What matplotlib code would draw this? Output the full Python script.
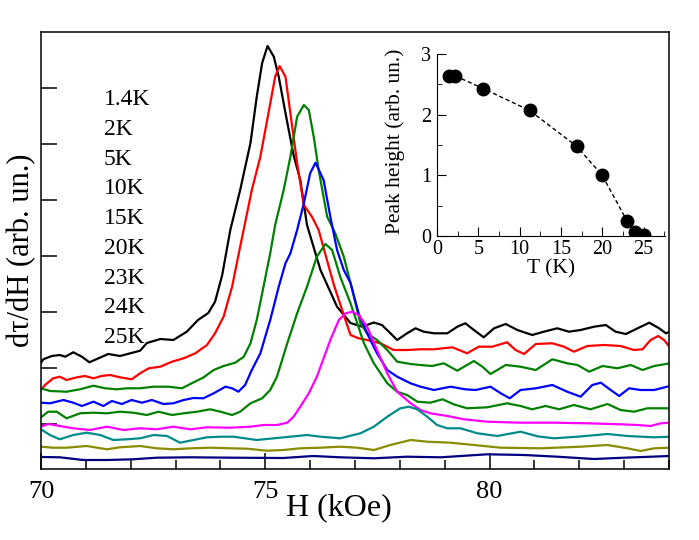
import matplotlib
matplotlib.use("Agg")
import matplotlib.pyplot as plt
import numpy as np

plt.rcParams["font.family"] = ["Liberation Serif", "DejaVu Serif"]

# field (kOe) and signal (arb. un., offset per curve)
h_14 = [70.0, 70.05, 70.24, 70.42, 70.54, 70.72, 70.91, 71.08, 71.28, 71.50, 71.76, 71.99, 72.21,
        72.36, 72.66, 72.95, 73.25, 73.50, 73.73, 73.88, 74.04, 74.22, 74.44, 74.67, 74.81, 74.93,
        75.05, 75.19, 75.30, 75.45, 75.63, 75.78, 75.93, 76.23, 76.60, 76.90, 77.16, 77.42, 77.60,
        77.79, 77.94, 78.16, 78.35, 78.53, 78.76, 79.06, 79.28, 79.46, 79.65, 79.87, 80.10, 80.36,
        80.62, 80.95, 81.21, 81.51, 81.77, 82.03, 82.33, 82.59, 82.81, 83.04, 83.30, 83.56, 83.78,
        83.93, 84.02]
s_14 = [106.3, 109.7, 113, 114, 112.3, 116.7, 112.3, 106.7, 110.7, 115, 113, 115.7, 118.3,
        126, 130, 129, 137.3, 149, 156, 167.3, 194, 239, 279, 326, 372.3, 406,
        423, 412.3, 392.3, 356, 314, 289, 244, 199, 162.3, 146, 142.3, 146.5, 144,
        135.7, 129, 135.7, 140.7, 137.3, 135.7, 135.7, 142.3, 145.7, 139, 131.7, 140.7, 145,
        139, 134, 137.3, 140.7, 137.3, 139, 142.3, 144, 137.3, 135, 140.7, 146.3, 140.7,
        135.7, 137.3]

h_2 = [70.0, 70.09, 70.27, 70.42, 70.57, 70.80, 70.98, 71.17, 71.35, 71.54, 71.76, 72.02, 72.21,
       72.40, 72.66, 72.92, 73.18, 73.44, 73.70, 73.88, 74.07, 74.26, 74.44, 74.70, 74.89, 75.07,
       75.22, 75.32, 75.45, 75.56, 75.71, 75.86, 76.04, 76.19, 76.30, 76.53, 76.75, 76.90, 77.08,
       77.27, 77.57, 77.86, 78.16, 78.46, 78.76, 79.17, 79.50, 79.76, 80.06, 80.39, 80.58, 80.77,
       81.03, 81.40, 81.66, 81.88, 82.18, 82.55, 82.92, 83.22, 83.41, 83.59, 83.76, 83.89, 84.02]
s_2 = [79, 84, 90.7, 92.3, 89, 91.7, 93, 90.7, 93, 94, 91.7, 89.7, 95.7,
       100.7, 102.3, 107.3, 110.7, 115.7, 124, 135.7, 152.3, 182.3, 222.3, 279, 312.3, 355.7,
       392.3, 403, 392.3, 355.7, 305.7, 264, 252.3, 239, 221, 184, 154, 134, 130.7,
       129, 125.7, 119, 119, 119.7, 119.7, 121.7, 115.7, 122.3, 122.3, 126.7, 119, 115,
       125, 125.7, 122.3, 117.3, 123, 124, 123, 119, 119.7, 129, 133, 129, 121.7]

h_5 = [70.0, 70.20, 70.57, 70.87, 71.17, 71.43, 71.69, 71.91, 72.21, 72.51, 72.84, 73.14, 73.36,
       73.62, 73.85, 74.07, 74.33, 74.52, 74.67, 74.81, 74.96, 75.11, 75.22, 75.41, 75.56, 75.71,
       75.86, 75.97, 76.08, 76.19, 76.38, 76.56, 76.75, 76.94, 77.12, 77.27, 77.49, 77.72, 77.94,
       78.24, 78.46, 78.72, 78.98, 79.28, 79.65, 79.84, 80.02, 80.36, 80.69, 81.03, 81.40, 81.73,
       81.96, 82.22, 82.52, 82.85, 83.15, 83.41, 83.67, 84.02]
s_5 = [80.7, 78, 77.3, 79.7, 83.3, 80.7, 79.7, 80.7, 80.7, 82.3, 82.3, 80.7, 85.7,
       91.5, 99, 103, 106.3, 112.3, 125.7, 149, 182.3, 215.7, 244, 279, 312.3, 352.3,
       364, 359, 332.3, 299, 252.3, 235.7, 212.3, 179, 145.7, 135.7, 129, 119, 107.3,
       105, 104, 103, 105.7, 98.3, 108, 102.3, 95, 104, 102.3, 99, 109.7, 105.7,
       104, 97.3, 103, 100.7, 104, 99, 103, 105.7]

h_10 = [70.0, 70.20, 70.50, 70.72, 70.91, 71.17, 71.39, 71.58, 71.80, 72.02, 72.25, 72.47, 72.73,
        72.95, 73.18, 73.40, 73.62, 73.85, 74.11, 74.26, 74.40, 74.55, 74.70, 74.89, 75.11, 75.30,
        75.45, 75.56, 75.71, 75.86, 76.00, 76.12, 76.23, 76.30, 76.45, 76.60, 76.75, 76.90, 77.08,
        77.27, 77.49, 77.72, 77.94, 78.24, 78.46, 78.76, 79.13, 79.46, 79.69, 80.02, 80.25, 80.45,
        80.69, 81.03, 81.40, 81.73, 82.03, 82.29, 82.48, 82.70, 82.89, 83.11, 83.37, 83.67, 84.02]
s_10 = [66.3, 65.7, 69, 66.3, 63, 67.3, 63, 68, 65, 69, 66.3, 69, 65,
        65.7, 69, 71, 70.7, 75.7, 82.3, 80.7, 77.3, 84, 99, 115.7, 149, 182.3,
        205.7, 215.7, 239, 265.7, 295.7, 306.3, 295.7, 289, 252.3, 219, 199, 186, 155.7,
        135.7, 115.7, 99, 92.3, 85.7, 82.3, 79, 82.3, 79.7, 79, 82.3, 75.7, 70.7,
        79, 80.7, 84, 77.3, 72.3, 84, 86.3, 79, 73, 80.7, 79, 79, 83]

h_15 = [70.0, 70.16, 70.35, 70.57, 70.87, 71.17, 71.47, 71.76, 72.06, 72.36, 72.62, 72.92, 73.18,
        73.48, 73.77, 74.00, 74.26, 74.44, 74.67, 74.93, 75.11, 75.26, 75.49, 75.71, 75.93, 76.15,
        76.34, 76.49, 76.67, 76.90, 77.05, 77.20, 77.42, 77.72, 77.94, 78.16, 78.39, 78.68, 78.95,
        79.20, 79.50, 79.95, 80.39, 80.69, 80.95, 81.25, 81.55, 81.88, 82.25, 82.63, 82.92, 83.22,
        83.52, 84.02]
s_15 = [51.7, 57.3, 57.3, 50.7, 55.7, 56.3, 55.7, 57.3, 56.3, 54, 57.3, 54, 55.7,
        57.3, 59.7, 57.3, 54, 57.3, 65.7, 70.7, 79, 92.3, 125.7, 155.7, 182.3, 212.3,
        225, 219, 192.3, 165.7, 145.7, 125.7, 105.7, 85.7, 77.3, 74, 67.3, 66.3, 69.7,
        64.7, 60.7, 61.7, 65.7, 63, 59.7, 63, 59.7, 64, 59.7, 65, 59, 57.3,
        60.7, 60.7]

h_20 = [70.0, 70.16, 70.42, 70.72, 71.09, 71.47, 71.84, 72.21, 72.58, 72.95, 73.33, 73.70, 74.22,
        74.67, 74.96, 75.26, 75.49, 75.63, 75.78, 75.97, 76.15, 76.45, 76.64, 76.79, 76.94, 77.08,
        77.27, 77.49, 77.72, 77.94, 78.24, 78.46, 78.68, 79.06, 79.43, 79.95, 80.69, 81.44, 82.18,
        82.92, 83.30, 83.59, 83.82, 84.02]
s_20 = [42.3, 45, 43, 40.7, 39, 42.3, 39, 40.7, 39.7, 42.3, 39.7, 41.7, 41.3,
        42.3, 44, 44, 46.3, 52.3, 62.3, 75.7, 92.3, 129, 149, 155.7, 157.3, 154,
        142.3, 119, 95.7, 77.3, 65.7, 59, 55.7, 53, 49.7, 47.3, 46.3, 46.3, 45.7,
        44.7, 44, 43, 45.7, 46.3]

h_23 = [70.0, 70.20, 70.42, 70.72, 71.02, 71.32, 71.61, 71.91, 72.21, 72.51, 72.81, 73.10, 73.40,
        73.70, 74.00, 74.29, 74.81, 75.19, 75.56, 75.93, 76.23, 76.67, 77.12, 77.42, 77.72, 78.01,
        78.20, 78.39, 78.61, 78.83, 79.06, 79.35, 79.73, 80.17, 80.69, 81.09, 81.44, 81.96, 82.63,
        83.07, 83.67, 84.02]
s_23 = [39.7, 34, 29.7, 34, 36.3, 34, 29, 29.7, 30.7, 34, 33, 26.3, 29,
        31.7, 32.3, 32.3, 29, 30.7, 32.3, 34, 32.3, 30.7, 35.7, 42.3, 52.3, 60.7,
        62.3, 59.7, 52.3, 44, 40.7, 40.7, 35.7, 33, 37.3, 32.5, 30.7, 32.3, 35,
        33, 31.7, 32.3]

h_24 = [70.0, 70.27, 70.57, 71.02, 71.47, 71.76, 72.21, 72.58, 72.95, 73.33, 73.77, 74.22, 74.59,
        75.04, 75.41, 75.78, 76.23, 76.67, 77.05, 77.42, 77.79, 78.24, 78.61, 79.13, 79.65, 80.25,
        81.14, 82.03, 82.63, 83.07, 83.37, 83.67, 84.02]
s_24 = [22.3, 21.3, 21.3, 23, 19.7, 21.7, 23, 20.7, 19.7, 20.7, 21.3, 20.7, 20.3,
        18.3, 19, 20.7, 21.3, 22.3, 21.3, 19, 24, 29, 27.3, 26.3, 24, 21.3,
        20.7, 22.3, 24, 20.7, 18, 20.7, 21.3]

h_25 = [70.0, 70.42, 70.94, 71.47, 72.05, 72.58, 73.33, 74.29, 75.40, 76.07, 76.67, 77.42, 78.16,
        78.91, 79.95, 80.77, 81.51, 82.33, 83.00, 84.02]
s_25 = [12, 11.7, 9, 9, 9.7, 11.3, 11.7, 11.3, 11, 13, 11.7, 10.7, 12.3,
        11.7, 14.7, 14, 12.3, 10, 11.3, 13]

labels = ["1.4K", "2K", "5K", "10K", "15K", "20K", "23K", "24K", "25K"]
colors = ["black", "#ff0000", "#008000", "#0000ff", "#008000", "#ff00ff", "#008b8b", "#8b8b00", "#000080"]
curves = [(h_14, s_14), (h_2, s_2), (h_5, s_5), (h_10, s_10), (h_15, s_15),
          (h_20, s_20), (h_23, s_23), (h_24, s_24), (h_25, s_25)]

# inset: peak height vs temperature
t_inset = [1.4, 2.2, 5.6, 11.2, 16.9, 20.0, 23.0, 24.0, 25.0]
peak_inset = [2.64, 2.64, 2.43, 2.07, 1.48, 1.00, 0.25, 0.07, 0.02]

fig = plt.figure(figsize=(6.99, 5.4), dpi=100)
ax = fig.add_axes([41 / 699, 71 / 540, 628 / 699, 437 / 540])

for (hh, ss), c in zip(curves, colors):
    ax.plot(hh, ss, color=c, lw=1.6, solid_joinstyle="round")

ax.set_xlim(70, 84)
ax.set_ylim(0, 437)
ax.set_xticks([70, 75, 80])
ax.set_xticks(np.arange(70, 85, 1), minor=True)
ax.set_yticks(np.arange(45, 437, 56))
ax.set_yticklabels([])
ax.tick_params(which="both", direction="in", top=False, right=False, width=1.1)
ax.tick_params(which="major", length=11.5)
ax.tick_params(which="minor", length=6.5)
ax.tick_params(axis="x", labelsize=19, pad=9)
for sp in ax.spines.values():
    sp.set_linewidth(1.1)

ax.set_xlabel("H (kOe)", fontsize=23)
ax.xaxis.set_label_coords(0.475, -0.056)
ax.set_ylabel("d\u03c4/dH (arb. un.)", fontsize=22)
ax.yaxis.set_label_coords(-0.008, 0.5)

for i, lab in enumerate(labels):
    ax.text(0.1, 0.845 - i * 0.068, lab, transform=ax.transAxes,
            fontsize=17, va="center", ha="left")

ins = fig.add_axes([437 / 699, 304 / 540, 228 / 699, 182 / 540])
ins.patch.set_alpha(0)
ins.plot(t_inset[1:], peak_inset[1:], color="black", lw=1.0, ls=(0, (3, 2)))
ins.plot(t_inset, peak_inset, "o", color="black", ms=9, ls="none")
ins.set_xlim(0, 27.6)
ins.set_ylim(0, 3)
ins.set_xticks([0, 5, 10, 15, 20, 25])
ins.set_xticks(np.arange(0, 27.6, 2.5), minor=True)
ins.set_yticks([0, 1, 2, 3])
ins.set_yticks([0.5, 1.5, 2.5], minor=True)
ins.spines["top"].set_visible(False)
ins.spines["right"].set_visible(False)
ins.tick_params(which="both", direction="in", top=False, right=False, labelsize=14.5)
ins.tick_params(axis="x", pad=3)
ins.tick_params(axis="y", pad=4)
ins.tick_params(which="major", length=6.5)
ins.tick_params(which="minor", length=3.5)
ins.set_xlabel("T (K)", fontsize=15.5)
ins.xaxis.set_label_coords(0.5, -0.125)
ins.set_ylabel("Peak height (arb. un.)", fontsize=15.5)
ins.yaxis.set_label_coords(-0.14, 0.52)

fig.savefig("out.png", dpi=100)
